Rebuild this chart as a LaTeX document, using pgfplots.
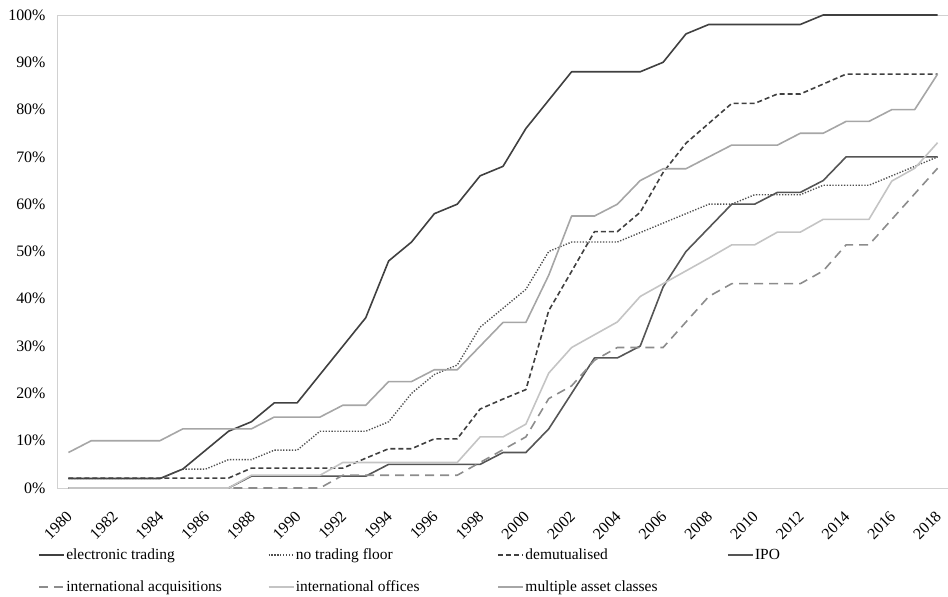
\documentclass[border=0pt]{standalone}
\usepackage{fontspec}
\setmainfont{Liberation Serif}
\usepackage{pgfplots}
\usepackage{pgfplotstable}
\pgfplotsset{compat=1.18}

\definecolor{cET}{HTML}{404040}
\definecolor{cNTF}{HTML}{505050}
\definecolor{cDM}{HTML}{404040}
\definecolor{cIPO}{HTML}{555555}
\definecolor{cIA}{HTML}{8C8C8C}
\definecolor{cIO}{HTML}{C4C4C4}
\definecolor{cMAC}{HTML}{A6A6A6}

% share of exchanges, %
\pgfplotstableread{
year et  ntf dm   ipo  ia   io   mac
1980 2   2   2.1  0    0    0    7.5
1981 2   2   2.1  0    0    0    10
1982 2   2   2.1  0    0    0    10
1983 2   2   2.1  0    0    0    10
1984 2   2   2.1  0    0    0    10
1985 4   4   2.1  0    0    0    12.5
1986 8   4   2.1  0    0    0    12.5
1987 12  6   2.1  0    0    0    12.5
1988 14  6   4.2  2.5  0    2.7  12.5
1989 18  8   4.2  2.5  0    2.7  15
1990 18  8   4.2  2.5  0    2.7  15
1991 24  12  4.2  2.5  0    2.7  15
1992 30  12  4.2  2.5  2.7  5.4  17.5
1993 36  12  6.3  2.5  2.7  5.4  17.5
1994 48  14  8.3  5    2.7  5.4  22.5
1995 52  20  8.3  5    2.7  5.4  22.5
1996 58  24  10.4 5    2.7  5.4  25
1997 60  26  10.4 5    2.7  5.4  25
1998 66  34  16.7 5    5.4  10.8 30
1999 68  38  18.8 7.5  8.1  10.8 35
2000 76  42  20.8 7.5  10.8 13.5 35
2001 82  50  37.5 12.5 18.9 24.3 45
2002 88  52  45.8 20   21.6 29.7 57.5
2003 88  52  54.2 27.5 27   32.4 57.5
2004 88  52  54.2 27.5 29.7 35.1 60
2005 88  54  58.3 30   29.7 40.5 65
2006 90  56  66.7 42.5 29.7 43.2 67.5
2007 96  58  72.9 50   35.1 45.9 67.5
2008 98  60  77.1 55   40.5 48.6 70
2009 98  60  81.3 60   43.2 51.4 72.5
2010 98  62  81.3 60   43.2 51.4 72.5
2011 98  62  83.3 62.5 43.2 54.1 72.5
2012 98  62  83.3 62.5 43.2 54.1 75
2013 100 64  85.4 65   45.9 56.8 75
2014 100 64  87.5 70   51.4 56.8 77.5
2015 100 64  87.5 70   51.4 56.8 77.5
2016 100 66  87.5 70   56.8 64.9 80
2017 100 68  87.5 70   62.2 67.6 80
2018 100 70  87.5 70   67.6 73   87.5
}\data

\newcommand{\lgd}[1]{\makebox[200bp][l]{#1}}

\begin{document}
\begin{tikzpicture}
\useasboundingbox (-57bp,-109bp) rectangle (891bp,488bp);
\begin{axis}[
    at={(0,0)}, anchor=south west,
    scale only axis, width=892bp, height=473bp,
    xmin=1979.5, xmax=2018.5, ymin=0, ymax=100,
    clip=false,
    axis line style={draw=black!18, line width=0.9bp},
    xtick={1980,1982,...,2018}, ytick={0,10,...,100},
    major tick length=0pt,
    /pgf/number format/assume math mode=true,
    tick label style={font=\fontsize{16}{18}\selectfont},
    x tick label style={xshift=-3bp, yshift=-17bp, rotate=45, anchor=north east,
        /pgf/number format/1000 sep={}},
    yticklabel={\pgfmathprintnumber{\tick}\%},
    yticklabel style={xshift=-8bp},
    every axis plot/.append style={line width=1.6bp, line join=round},
    legend columns=4,
    legend cell align=left,
    legend image code/.code={\draw[#1] (0bp,0bp) -- (25bp,0bp);},
    legend style={draw=none, at={(0,0)}, anchor=north west,
        xshift=-22bp, yshift=-57bp, row sep=17bp,
        nodes={inner sep=1.5bp},
        font=\fontsize{15.5}{18}\selectfont},
]
\addplot[cET] table[x=year, y=et] {\data};
\addlegendentry{\lgd{electronic trading}}
\addplot[cNTF, line width=1.4bp, dash pattern=on 1.3bp off 1.6bp] table[x=year, y=ntf] {\data};
\addlegendentry{\lgd{no trading floor}}
\addplot[cDM, dash pattern=on 5bp off 3bp] table[x=year, y=dm] {\data};
\addlegendentry{\lgd{demutualised}}
\addplot[cIPO] table[x=year, y=ipo] {\data};
\addlegendentry{\lgd{IPO}}
\addplot[cIA, dash pattern=on 9bp off 6bp] table[x=year, y=ia] {\data};
\addlegendentry{\lgd{international acquisitions}}
\addplot[cIO] table[x=year, y=io] {\data};
\addlegendentry{\lgd{international offices}}
\addplot[cMAC] table[x=year, y=mac] {\data};
\addlegendentry{\lgd{multiple asset classes}}
\end{axis}
\end{tikzpicture}
\end{document}
